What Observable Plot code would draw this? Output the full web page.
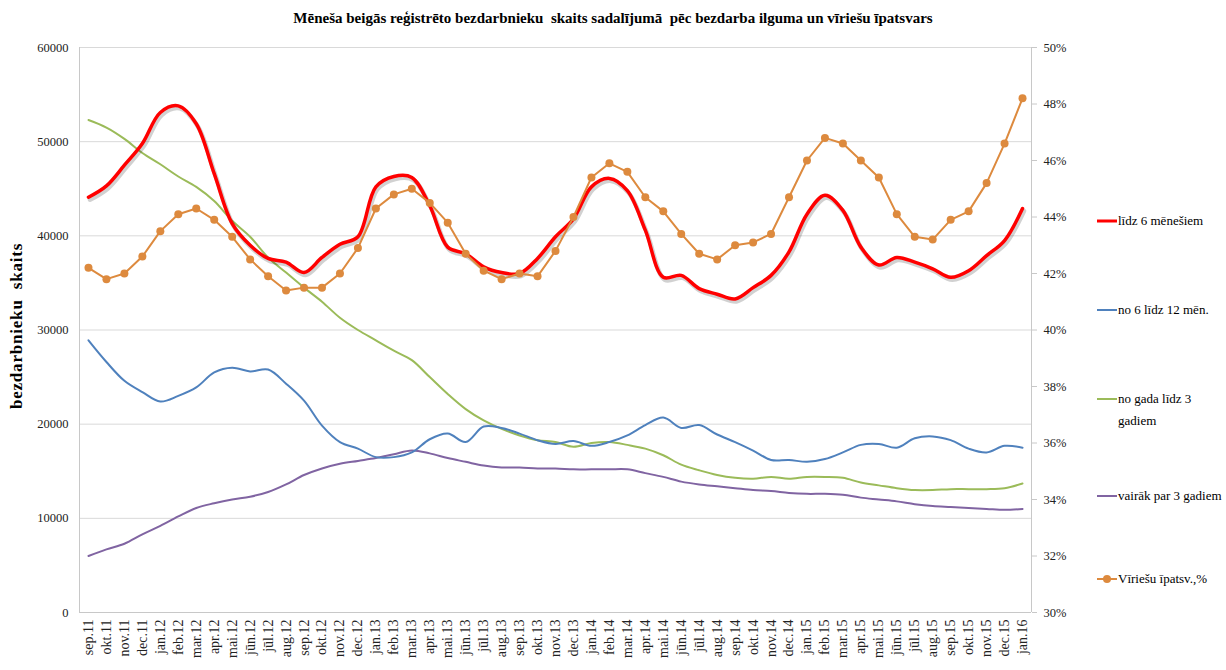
<!DOCTYPE html>
<html>
<head>
<meta charset="utf-8">
<script src="https://cdn.jsdelivr.net/npm/d3@7"></script>
<script src="https://cdn.jsdelivr.net/npm/@observablehq/plot@0.6"></script>
<style>
  body { margin: 0; background: #fff; }
  #wrap { position: relative; width: 1226px; height: 670px; overflow: hidden; font-family: "Liberation Serif", "Times New Roman", serif; color: #000; }
  #chart { position: absolute; left: 0; top: 0; }
  #title { position: absolute; top: 10px; left: 0; width: 1226px; text-align: center; font-weight: bold; font-size: 15px; }
  #ytitle { position: absolute; left: 17px; top: 326px; transform: translate(-50%, -50%) rotate(-90deg); font-weight: bold; font-size: 17px; white-space: nowrap; letter-spacing: 0.8px; }
  .leg { position: absolute; left: 1097px; width: 128px; font-size: 13px; line-height: 22px; display: flex; align-items: flex-start; white-space: nowrap; }
  .leg svg { flex: none; margin-top: 5px; }
</style>
</head>
<body>
<div id="wrap">
  <div id="chart"></div>
  <div id="title">Mēneša beigās reģistrēto bezdarbnieku&nbsp; skaits sadalījumā&nbsp; pēc bezdarba ilguma un vīriešu īpatsvars</div>
  <div id="ytitle">bezdarbnieku&nbsp; skaits</div>
  <div id="legend"></div>
</div>
<script>
const months = ["sep.11","okt.11","nov.11","dec.11",
  "jan.12","feb.12","mar.12","apr.12","mai.12","jūn.12","jūl.12","aug.12","sep.12","okt.12","nov.12","dec.12",
  "jan.13","feb.13","mar.13","apr.13","mai.13","jūn.13","jūl.13","aug.13","sep.13","okt.13","nov.13","dec.13",
  "jan.14","feb.14","mar.14","apr.14","mai.14","jūn.14","jūl.14","aug.14","sep.14","okt.14","nov.14","dec.14",
  "jan.15","feb.15","mar.15","apr.15","mai.15","jūn.15","jūl.15","aug.15","sep.15","okt.15","nov.15","dec.15",
  "jan.16"];

const lidz6 = [44100,45300,47500,49800,53100,53800,51900,46600,41300,39000,37600,37200,36100,37700,39100,39900,
  45200,46300,46200,43200,38800,38100,36700,36100,36000,37600,39900,41800,
  45200,46100,44800,40600,35600,35800,34400,33800,33300,34500,35800,38300,
  42300,44300,42700,38800,36900,37700,37200,36500,35600,36300,37900,39500,42900];

const no6lidz12 = [28900,26600,24600,23400,22400,23000,23900,25500,26000,25600,25800,24300,22500,19850,18100,17400,
  16500,16500,17000,18400,19000,18100,19750,19600,19000,18300,17900,18200,
  17700,18100,18800,19900,20700,19600,19900,18900,18100,17200,16200,16200,
  16000,16300,17000,17800,17900,17500,18500,18700,18300,17400,17000,17700,17500];

const noGada = [52300,51500,50300,48800,47600,46300,45200,43700,41600,39900,37700,36100,34500,33000,31300,30000,
  28900,27800,26800,25000,23200,21600,20400,19500,18800,18300,18100,17600,
  18000,18100,17800,17400,16700,15700,15100,14600,14300,14200,14400,14200,
  14400,14400,14300,13800,13500,13200,13000,13000,13100,13100,13100,13200,13700];

const vairak3 = [6000,6700,7300,8300,9200,10200,11100,11600,12000,12300,12800,13600,14600,15300,15800,16100,
  16400,16800,17200,16900,16400,16000,15600,15400,15400,15300,15300,15200,
  15200,15200,15200,14800,14400,13900,13600,13400,13200,13000,12900,12700,
  12600,12600,12500,12200,12000,11800,11500,11300,11200,11100,11000,10900,11000];

const virPct = [42.2,41.8,42.0,42.6,43.5,44.1,44.3,43.9,43.3,42.5,41.9,41.4,41.5,41.5,42.0,42.9,
  44.3,44.8,45.0,44.5,43.8,42.7,42.1,41.8,42.0,41.9,42.8,44.0,
  45.4,45.9,45.6,44.7,44.2,43.4,42.7,42.5,43.0,43.1,43.4,44.7,
  46.0,46.8,46.6,46.0,45.4,44.1,43.3,43.2,43.9,44.2,45.2,46.6,48.2];

const leftTicks = [0,10000,20000,30000,40000,50000,60000];
const rightTicks = [30,32,34,36,38,40,42,44,46,48,50];

const names = ["līdz 6 mēnešiem","no 6 līdz 12 mēn.","no gada līdz 3 gadiem","vairāk par 3 gadiem","Vīriešu īpatsv.,%"];
const colors = ["#ff0000","#4f81bd","#9bbb59","#8064a2","#dd8a3e"];

// map right-axis percentage onto the left (count) scale
const LMAX = 60000, PMIN = 30, PMAX = 50;
const pToL = p => (p - PMIN) / (PMAX - PMIN) * LMAX;
const lToP = v => PMIN + v / LMAX * (PMAX - PMIN);

const mk = arr => months.map((m, i) => ({m, v: arr[i]}));
const dRed = mk(lidz6), dBlue = mk(no6lidz12), dGreen = mk(noGada), dPurple = mk(vairak3);
const dOrange = months.map((m, i) => ({m, v: pToL(virPct[i])}));

const W = 1226, H = 670, ML = 79, MR = 195, MT = 47, MB = 58;
const half = (W - ML - MR) / months.length / 2;

const chart = Plot.plot({
  width: W, height: H,
  marginLeft: ML, marginRight: MR, marginTop: MT, marginBottom: MB,
  style: {fontFamily: "'Liberation Serif', 'Times New Roman', serif", fontSize: "12.5px", color: "#222", background: "transparent"},
  x: {type: "point", domain: months, padding: 0.5},
  y: {domain: [0, LMAX]},
  marks: [
    Plot.gridY(leftTicks.filter(d => d > 0), {stroke: "#d9d9d9", strokeOpacity: 1}),
    Plot.ruleY([0], {stroke: "#c8c8c8"}),
    Plot.ruleX([months[0]], {dx: -half, stroke: "#c8c8c8"}),
    Plot.ruleX([months[months.length - 1]], {dx: half, stroke: "#c8c8c8"}),
    Plot.axisY(leftTicks, {anchor: "left", tickSize: 0, tickPadding: 11, tickFormat: d => String(d), label: null}),
    Plot.axisY(rightTicks.map(pToL), {anchor: "right", tickSize: 5, tickPadding: 7, stroke: "#c8c8c8", tickFormat: d => Math.round(lToP(d)) + "%", label: null}),
    Plot.axisX({tickRotate: -90, tickSize: 0, tickPadding: 7, fontSize: 14, label: null}),
    Plot.line(dPurple, {x: "m", y: "v", stroke: colors[3], strokeWidth: 2, curve: "catmull-rom"}),
    Plot.line(dGreen, {x: "m", y: "v", stroke: colors[2], strokeWidth: 2, curve: "catmull-rom"}),
    Plot.line(dBlue, {x: "m", y: "v", stroke: colors[1], strokeWidth: 2, curve: "catmull-rom"}),
    Plot.line(dRed, {x: "m", y: "v", stroke: "#000", strokeOpacity: 0.18, strokeWidth: 4.5, dx: 1.5, dy: 2.5, curve: "catmull-rom"}),
    Plot.line(dRed, {x: "m", y: "v", stroke: colors[0], strokeWidth: 3.5, curve: "catmull-rom"}),
    Plot.line(dOrange, {x: "m", y: "v", stroke: colors[4], strokeWidth: 2}),
    Plot.dot(dOrange, {x: "m", y: "v", fill: colors[4], r: 4})
  ]
});
document.getElementById("chart").appendChild(chart);

// legend
const legTops = [210, 299, 388, 485, 568];
const legLabels = ["līdz 6 mēnešiem", "no 6 līdz 12 mēn.", "no gada līdz 3<br>gadiem", "vairāk par 3 gadiem", "Vīriešu īpatsv.,%"];
const leg = document.getElementById("legend");
legLabels.forEach((t, i) => {
  const div = document.createElement("div");
  div.className = "leg";
  div.style.top = legTops[i] + "px";
  const sw = i === 0 ? 3 : 2;
  const dot = i === 4 ? `<circle cx="10" cy="6" r="4" fill="${colors[4]}"/>` : "";
  div.innerHTML = `<svg width="21" height="12"><line x1="0" x2="20" y1="6" y2="6" stroke="${colors[i]}" stroke-width="${sw}"/>${dot}</svg><span>${t}</span>`;
  leg.appendChild(div);
});
</script>
</body>
</html>
